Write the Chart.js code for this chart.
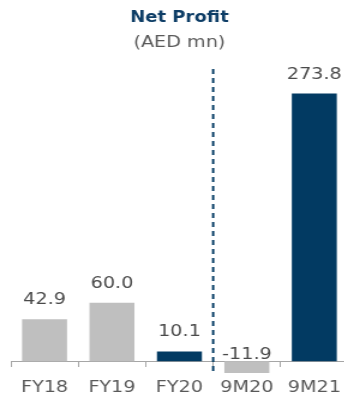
<!DOCTYPE html>
<html>
<head>
<meta charset="utf-8">
<script src="https://cdn.jsdelivr.net/npm/chart.js@4/dist/chart.umd.min.js"></script>
<style>
    html, body { margin: 0; padding: 0; background: #fff; overflow: hidden; }
    body { width: 344px; height: 396px; }
    /* the whole chart is drawn a bit wide */
    #wrap { width: 300px; height: 396px; transform: scaleX(1.2); transform-origin: 0 0; }
</style>
</head>
<body>
<div id="wrap"><canvas id="chartProfit"></canvas></div>
<script>
/* ============================================================
   Net Profit (AED mn)
   ============================================================ */

const periodos = ["FY18", "FY19", "FY20", "9M20", "9M21"];
const beneficio = [42.9, 60.0, 10.1, -11.9, 273.8];
const destacados = [false, false, true, false, true];
const separarDespuesDe = "FY20";

const AZUL = "#023a62";
const GRIS = "#bfbfbf";
const FUENTE = "'DejaVu Sans', Verdana, sans-serif";

// Etiquetas de valor sobre cada barra
const etiquetasValor = {
    id: "etiquetasValor",
    afterDatasetsDraw(chart) {
        const ctx = chart.ctx;
        const y = chart.scales.y;
        const meta = chart.getDatasetMeta(0);
        ctx.save();
        ctx.font = "16px " + FUENTE;
        ctx.fillStyle = "#4a4a4a";
        ctx.textAlign = "center";
        ctx.textBaseline = "alphabetic";
        meta.data.forEach((bar, i) => {
            const v = beneficio[i];
            const base = v >= 0 ? bar.y - 15 : y.getPixelForValue(0) - 2;
            ctx.fillText(v.toFixed(1), bar.x, base);
        });
        ctx.restore();
    }
};

// Linea discontinua entre años completos y 9 meses
const separador = {
    id: "separador",
    afterDatasetsDraw(chart) {
        const ctx = chart.ctx;
        const x = chart.scales.x;
        const area = chart.chartArea;
        const i = periodos.indexOf(separarDespuesDe);
        const px = (x.getPixelForValue(i) + x.getPixelForValue(i + 1)) / 2;
        ctx.save();
        ctx.strokeStyle = AZUL;
        ctx.lineWidth = 1.9;
        ctx.setLineDash([5, 4]);
        ctx.beginPath();
        ctx.moveTo(px, area.top + 1);
        ctx.lineTo(px, area.bottom);
        ctx.stroke();
        ctx.restore();
    }
};

new Chart(document.getElementById("chartProfit"), {
    type: "bar",
    data: {
        labels: periodos,
        datasets: [{
            data: beneficio,
            backgroundColor: destacados.map(d => d ? AZUL : GRIS),
            barPercentage: 0.667,
            categoryPercentage: 1,
            clip: false
        }]
    },
    options: {
        responsive: true,
        maintainAspectRatio: false,
        animation: false,
        layout: { padding: { left: 9, right: 10, top: 0, bottom: 22 } },
        plugins: {
            legend: { display: false },
            tooltip: { enabled: false },
            title: {
                display: true,
                text: "Net Profit",
                color: "#0d3d66",
                font: { family: FUENTE, size: 15, weight: "bold", lineHeight: 1.2 },
                padding: { top: 9, bottom: 0 }
            },
            subtitle: {
                display: true,
                text: "(AED mn)",
                color: "#5a5a5a",
                font: { family: FUENTE, size: 16, lineHeight: 1.2 },
                padding: { top: 6, bottom: 15.8 }
            }
        },
        scales: {
            x: {
                position: { y: 0 },
                border: { display: true, color: "#a6a6a6", width: 1 },
                grid: {
                    display: true,
                    drawOnChartArea: false,
                    drawTicks: true,
                    tickLength: 5,
                    color: "#a6a6a6"
                },
                ticks: {
                    color: "#595959",
                    padding: 12,
                    font: { family: FUENTE, size: 16 }
                }
            },
            y: {
                display: false,
                min: -13,
                max: 300
            }
        }
    },
    plugins: [etiquetasValor, separador]
});
</script>
</body>
</html>
